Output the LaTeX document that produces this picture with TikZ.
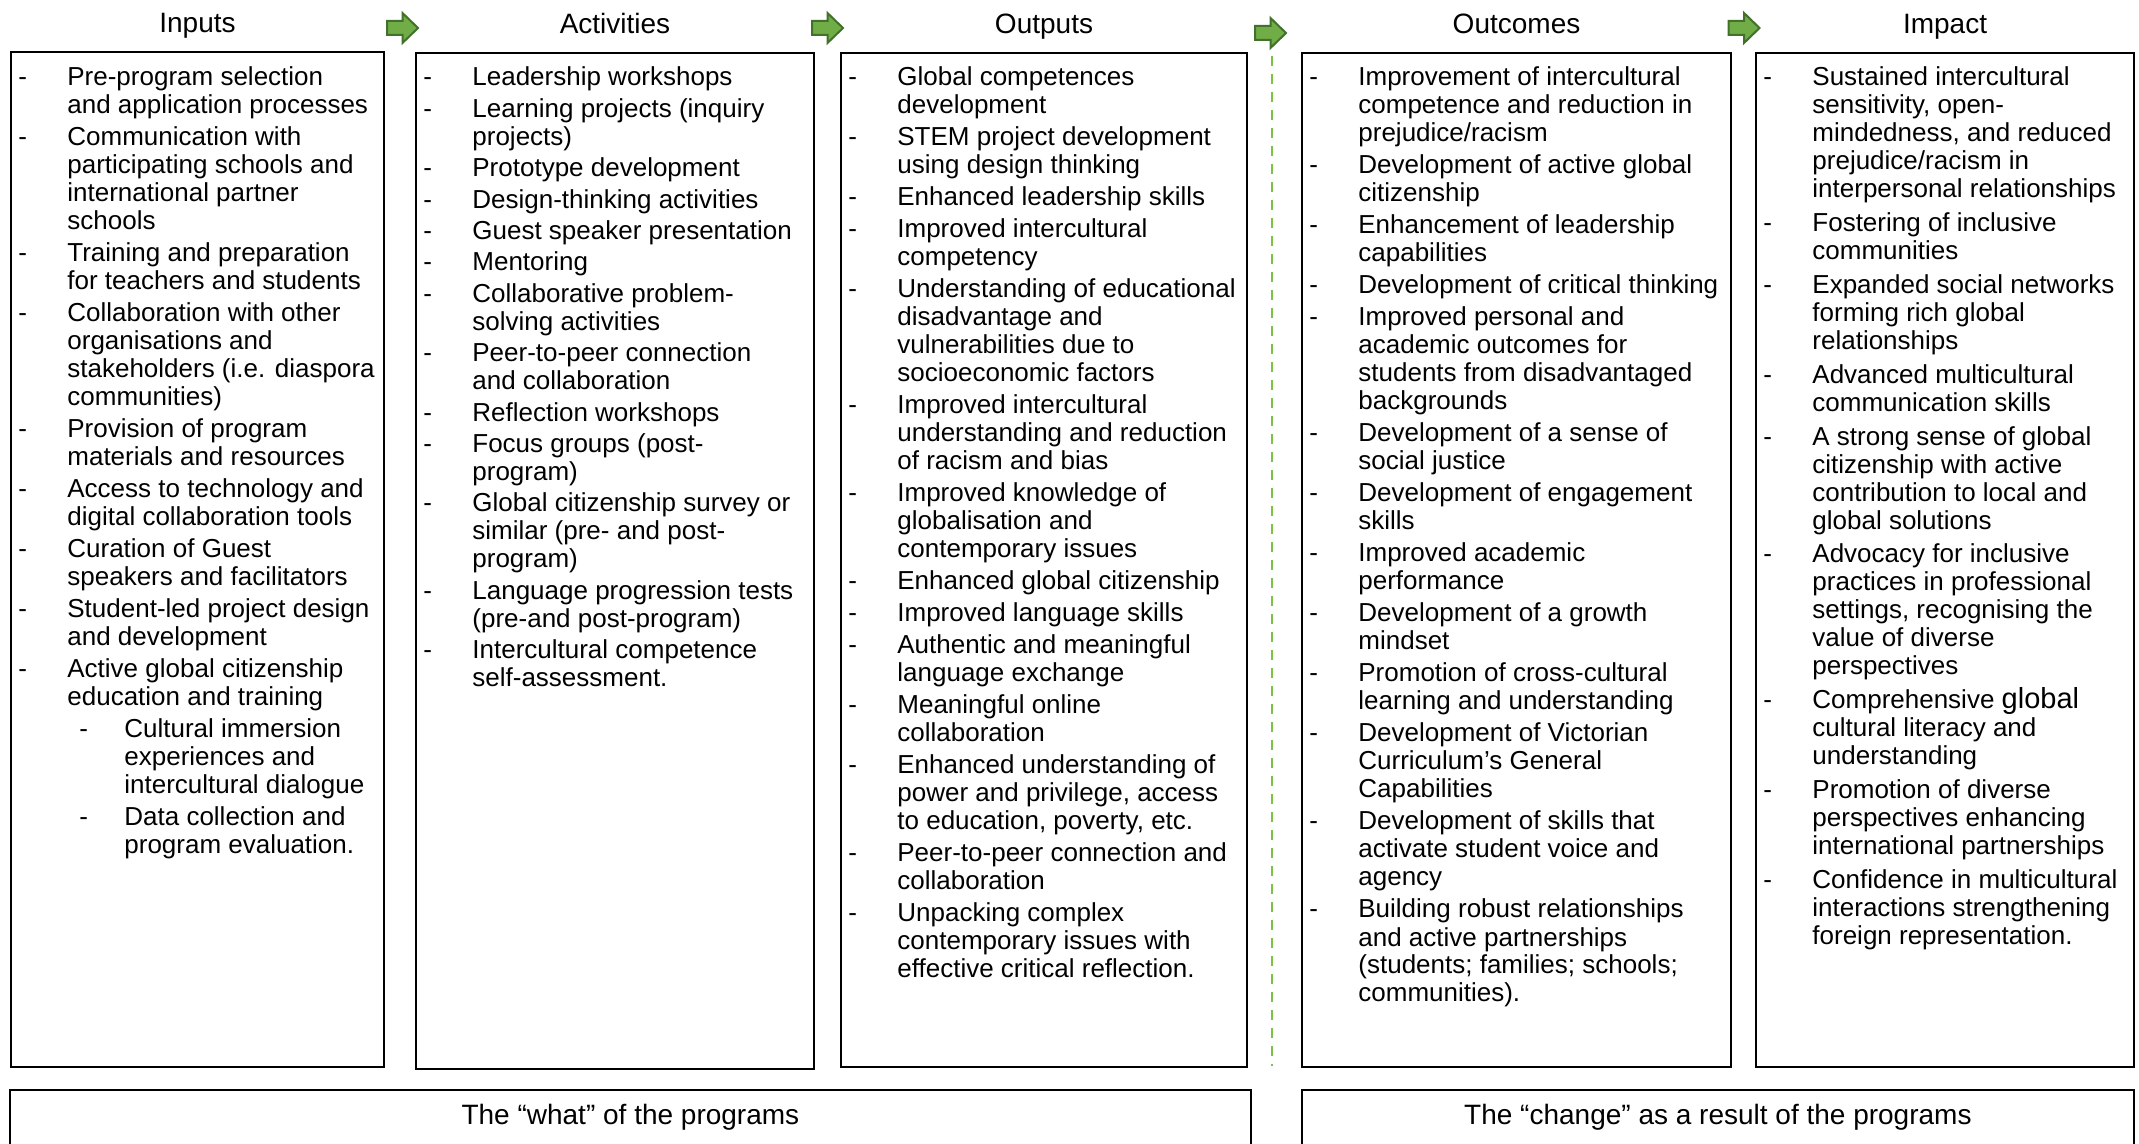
\documentclass[tikz,border=0pt]{standalone}
\usepackage{fontspec}
\setmainfont{Liberation Sans}
\usepackage{tikz}
\usetikzlibrary{positioning}

\definecolor{arrowfill}{HTML}{70AD47}
\definecolor{arrowedge}{HTML}{41712A}
\definecolor{sepgreen}{HTML}{7DC142}

% list items with a hanging dash
\newcommand{\litem}[1]{\par\hangindent=28.5pt\hangafter=1\noindent\hbox to 28.5pt{\hspace{4pt}-\hfil}#1}
\newcommand{\lsubitem}[1]{\par\hangindent=57pt\hangafter=1\noindent\hbox to 57pt{\hspace{34.5pt}-\hfil}#1}
% column text: width, gap between items, items
\newcommand{\colitems}[3]{\begin{minipage}[t]{#1}\raggedright\let\\\newline\setlength{\parskip}{#2}#3\end{minipage}}

\begin{document}
\begin{tikzpicture}[x=0.5pt,y=-0.5pt,
  colbox/.style={draw, line width=1pt, inner sep=0pt, anchor=north west},
  headtxt/.style={font=\fontsize{14pt}{16pt}\selectfont, inner sep=0pt, text height=10pt, text depth=3pt},
  listtxt/.style={font=\fontsize{13pt}{14pt}\selectfont, inner sep=0pt, anchor=base west},
  footbox/.style={inner sep=0pt, anchor=north west, minimum height=27pt, font=\fontsize{14pt}{16pt}\selectfont},
  flowarrow/.style={fill=arrowfill, draw=arrowedge, line width=1pt},
  sepline/.style={draw=sepgreen, line width=1pt, dash pattern=on 5pt off 4pt}]

  \useasboundingbox (0,0) rectangle (2139,1144);

  % columns
  \node[colbox, minimum width=186.5pt, minimum height=507.5pt] (inbox) at (10,51) {};
  \node[colbox, minimum width=199pt, minimum height=508pt] (actbox) at (415,52) {};
  \node[colbox, minimum width=203pt, minimum height=507pt] (outbox) at (840,52) {};
  \node[colbox, minimum width=214.5pt, minimum height=507pt] (ocbox) at (1301,52) {};
  \node[colbox, minimum width=189pt, minimum height=507pt] (impbox) at (1755,52) {};

  \node[headtxt] (inhead) [above=6pt of inbox] {Inputs};
  \node[headtxt] (acthead) [above=6pt of actbox] {Activities};
  \node[headtxt] (outhead) [above=6pt of outbox] {Outputs};
  \node[headtxt] (ochead) [above=6pt of ocbox] {Outcomes};
  \node[headtxt] (imphead) [above=6pt of impbox] {Impact};

  \node[listtxt] (inlist) at ([yshift=-17.5pt]inbox.north west) {\colitems{184pt}{2pt}{%
    \litem{Pre-program selection\\and application processes}
    \litem{Communication with\\participating schools and\\international partner\\schools}
    \litem{Training and preparation\\for teachers and students}
    \litem{Collaboration with other\\organisations and\\stakeholders (i.e. diaspora\\communities)}
    \litem{Provision of program\\materials and resources}
    \litem{Access to technology and\\digital collaboration tools}
    \litem{Curation of Guest\\speakers and facilitators}
    \litem{Student-led project design\\and development}
    \litem{Active global citizenship\\education and training}
    \lsubitem{Cultural immersion\\experiences and\\intercultural dialogue}
    \lsubitem{Data collection and\\program evaluation.}}};

  \node[listtxt] (actlist) at ([yshift=-17pt]actbox.north west) {\colitems{196pt}{1.7pt}{%
    \litem{Leadership workshops}
    \litem{Learning projects (inquiry\\projects)}
    \litem{Prototype development}
    \litem{Design-thinking activities}
    \litem{Guest speaker presentation}
    \litem{Mentoring}
    \litem{Collaborative problem-\\solving activities}
    \litem{Peer-to-peer connection\\and collaboration}
    \litem{Reflection workshops}
    \litem{Focus groups (post-\\program)}
    \litem{Global citizenship survey or\\similar (pre- and post-\\program)}
    \litem{Language progression tests\\(pre-and post-program)}
    \litem{Intercultural competence\\self-assessment.}}};

  \node[listtxt] (outlist) at ([yshift=-17pt]outbox.north west) {\colitems{200pt}{2pt}{%
    \litem{Global competences\\development}
    \litem{STEM project development\\using design thinking}
    \litem{Enhanced leadership skills}
    \litem{Improved intercultural\\competency}
    \litem{Understanding of educational\\disadvantage and\\vulnerabilities due to\\socioeconomic factors}
    \litem{Improved intercultural\\understanding and reduction\\of racism and bias}
    \litem{Improved knowledge of\\globalisation and\\contemporary issues}
    \litem{Enhanced global citizenship}
    \litem{Improved language skills}
    \litem{Authentic and meaningful\\language exchange}
    \litem{Meaningful online\\collaboration}
    \litem{Enhanced understanding of\\power and privilege, access\\to education, poverty, etc.}
    \litem{Peer-to-peer connection and\\collaboration}
    \litem{Unpacking complex\\contemporary issues with\\effective critical reflection.}}};

  \node[listtxt] (oclist) at ([yshift=-17pt]ocbox.north west) {\colitems{212pt}{2pt}{%
    \litem{Improvement of intercultural\\competence and reduction in\\prejudice/racism}
    \litem{Development of active global\\citizenship}
    \litem{Enhancement of leadership\\capabilities}
    \litem{Development of critical thinking}
    \litem{Improved personal and\\academic outcomes for\\students from disadvantaged\\backgrounds}
    \litem{Development of a sense of\\social justice}
    \litem{Development of engagement\\skills}
    \litem{Improved academic\\performance}
    \litem{Development of a growth\\mindset}
    \litem{Promotion of cross-cultural\\learning and understanding}
    \litem{Development of Victorian\\Curriculum’s General\\Capabilities}
    \litem{Development of skills that\\activate student voice and\\agency}
    \litem{Building robust relationships\\and active partnerships\\(students; families; schools;\\communities).}}};

  \node[listtxt] (implist) at ([yshift=-17pt]impbox.north west) {\colitems{187pt}{2.9pt}{%
    \litem{Sustained intercultural\\sensitivity, open-\\mindedness, and reduced\\prejudice/racism in\\interpersonal relationships}
    \litem{Fostering of inclusive\\communities}
    \litem{Expanded social networks\\forming rich global\\relationships}
    \litem{Advanced multicultural\\communication skills}
    \litem{A strong sense of global\\citizenship with active\\contribution to local and\\global solutions}
    \litem{Advocacy for inclusive\\practices in professional\\settings, recognising the\\value of diverse\\perspectives}
    \litem{Comprehensive {\fontsize{14.5pt}{14pt}\selectfont global}\\cultural literacy and\\understanding}
    \litem{Promotion of diverse\\perspectives enhancing\\international partnerships}
    \litem{Confidence in multicultural\\interactions strengthening\\foreign representation.}}};

  % green block arrows between the headings
  \foreach \ax/\ay in {402.5/28, 827.5/28, 1270.5/33, 1744/28}
    \draw[flowarrow] (\ax-15.5,\ay-7) -- (\ax,\ay-7) -- (\ax,\ay-15) -- (\ax+15.5,\ay)
      -- (\ax,\ay+15) -- (\ax,\ay+7) -- (\ax-15.5,\ay+7) -- cycle;

  % split between what and change
  \coordinate (septop) at (1272,56);
  \coordinate (sepbot) at (1272,1066);
  \draw[sepline] (septop) -- (sepbot);

  % bottom labels
  \node[footbox, minimum width=620pt] (whatbox) at (10,1090) {The “what” of the programs};
  \node[footbox, minimum width=415.5pt] (changebox) at (1302,1090) {The “change” as a result of the programs};
  \draw[line width=1pt] (whatbox.south west) -- (whatbox.north west) -- (whatbox.north east) -- (whatbox.south east);
  \draw[line width=1pt] (changebox.south west) -- (changebox.north west) -- (changebox.north east) -- (changebox.south east);

\end{tikzpicture}
\end{document}
